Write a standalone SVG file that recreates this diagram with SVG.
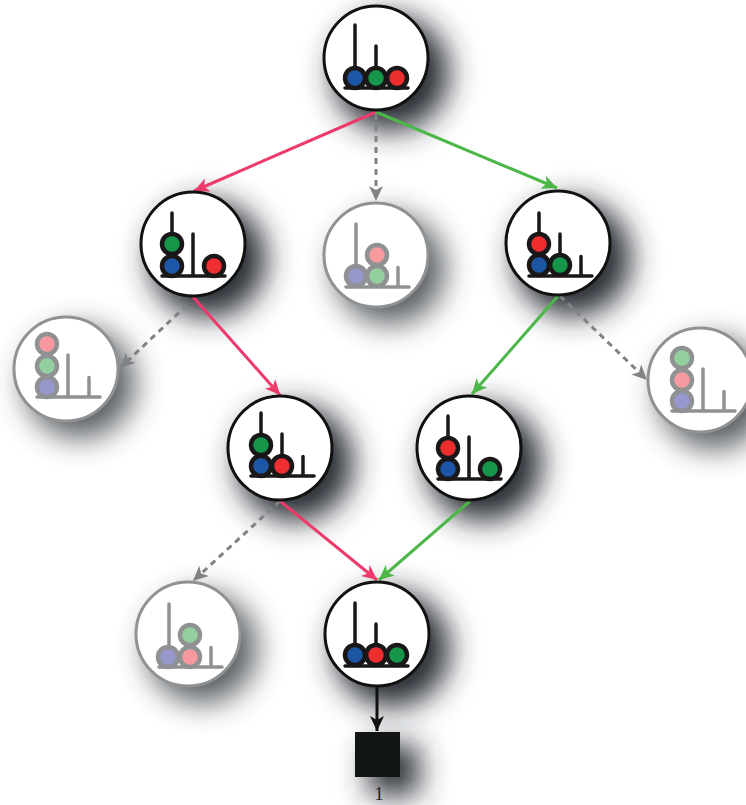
<svg xmlns="http://www.w3.org/2000/svg" width="746" height="805" viewBox="0 0 746 805">
<style>
.c{fill:#fff;stroke:var(--line,#111);stroke-width:3}
.p{stroke:var(--line,#1a1718);stroke-width:3.5;fill:none;stroke-linecap:round}
.ball{stroke:var(--line,#1a1718);stroke-width:4.5}
.f{--line:#8f9193}
.b{fill:#1d56a5}.g{fill:#16964a}.r{fill:#ee2e2e}
.f .b{fill:#9697cc}.f .g{fill:#93cf9f}.f .r{fill:#f79aa0}
.con{fill:none;stroke-width:3}
.pink{stroke:#ee3a6a}.green{stroke:#4cb748}.grey{stroke:#808285;stroke-dasharray:6 5}.black{stroke:#111}
.sh{fill:#262c30;filter:url(#blur)}
.shf{fill:#3a4045;filter:url(#blur);opacity:.85}
</style>
<defs>
<filter id="blur" x="-80%" y="-80%" width="260%" height="260%"><feGaussianBlur stdDeviation="15"/></filter>
<marker id="mp" markerUnits="userSpaceOnUse" markerWidth="17" markerHeight="16" refX="15" refY="8" orient="auto"><path d="M0 1L15 8L0 15L4 8Z" fill="#ee3a6a"/></marker>
<marker id="mg" markerUnits="userSpaceOnUse" markerWidth="17" markerHeight="16" refX="15" refY="8" orient="auto"><path d="M0 1L15 8L0 15L4 8Z" fill="#4cb748"/></marker>
<marker id="mk" markerUnits="userSpaceOnUse" markerWidth="17" markerHeight="16" refX="15" refY="8" orient="auto"><path d="M0 1L15 8L0 15L4 8Z" fill="#808285"/></marker>
<marker id="mb" markerUnits="userSpaceOnUse" markerWidth="17" markerHeight="16" refX="15" refY="8" orient="auto"><path d="M0 1L15 8L0 15L4 8Z" fill="#111"/></marker>
<circle id="disc" class="c" r="52"/>
<path id="rig" class="p" d="M-10 0H53M0 0V-63M21 0V-42M42 0V-19.5"/>
<circle id="ball" class="ball" r="10"/>
</defs>
<g id="shadows">
<circle class="sh" cx="391" cy="73" r="58"/>
<circle class="sh" cx="208" cy="259" r="58"/>
<circle class="shf" cx="390" cy="269" r="55"/>
<circle class="sh" cx="573" cy="258" r="58"/>
<circle class="shf" cx="80" cy="383" r="55"/>
<circle class="shf" cx="714" cy="394" r="55"/>
<circle class="sh" cx="295" cy="463" r="58"/>
<circle class="sh" cx="484" cy="463" r="58"/>
<circle class="shf" cx="202" cy="648" r="55"/>
<circle class="sh" cx="392" cy="649" r="58"/>
<rect class="sh" x="369" y="745" width="50" height="50"/>
</g>
<g id="connectors">
<path class="con pink" marker-end="url(#mp)" d="M376 112L194 191"/>
<path class="con green" marker-end="url(#mg)" d="M376 112L557 188"/>
<path class="con grey" marker-end="url(#mk)" d="M376 114V201"/>
<path class="con pink" marker-end="url(#mp)" d="M193 297L280 395"/>
<path class="con grey" marker-end="url(#mk)" d="M187 305L120 368"/>
<path class="con green" marker-end="url(#mg)" d="M558 296L472 394"/>
<path class="con grey" marker-end="url(#mk)" d="M560 296L647 380"/>
<path class="con pink" marker-end="url(#mp)" d="M280 501L377 580"/>
<path class="con green" marker-end="url(#mg)" d="M470 501L379 580"/>
<path class="con grey" marker-end="url(#mk)" d="M280 501L193 581"/>
<path class="con black" marker-end="url(#mb)" d="M377 687V731"/>
</g>
<g id="n1"><use href="#disc" x="376" y="58"/><use href="#rig" x="355" y="88"/><use href="#ball" class="b" x="355" y="78"/><use href="#ball" class="g" x="376" y="78"/><use href="#ball" class="r" x="397" y="78"/></g>
<g id="n2"><use href="#disc" x="193" y="244"/><use href="#rig" x="172" y="276"/><use href="#ball" class="b" x="172" y="266"/><use href="#ball" class="g" x="172" y="244"/><use href="#ball" class="r" x="214" y="266"/></g>
<g id="n3" class="f"><use href="#disc" x="376" y="255"/><use href="#rig" x="356" y="287"/><use href="#ball" class="b" x="356" y="276"/><use href="#ball" class="g" x="377" y="276"/><use href="#ball" class="r" x="377" y="255"/></g>
<g id="n4"><use href="#disc" x="558" y="243"/><use href="#rig" x="539" y="276"/><use href="#ball" class="b" x="539" y="265"/><use href="#ball" class="r" x="539" y="244"/><use href="#ball" class="g" x="560" y="265"/></g>
<g id="n5" class="f"><use href="#disc" x="66" y="369"/><use href="#rig" x="47" y="397"/><use href="#ball" class="b" x="47" y="387"/><use href="#ball" class="g" x="47" y="366"/><use href="#ball" class="r" x="47" y="344"/></g>
<g id="n6" class="f"><use href="#disc" x="700" y="380"/><use href="#rig" x="682" y="411"/><use href="#ball" class="b" x="682" y="401"/><use href="#ball" class="r" x="682" y="380"/><use href="#ball" class="g" x="682" y="358"/></g>
<g id="n7"><use href="#disc" x="280" y="448"/><use href="#rig" x="261" y="476"/><use href="#ball" class="b" x="261" y="466"/><use href="#ball" class="g" x="261" y="445"/><use href="#ball" class="r" x="282" y="466"/></g>
<g id="n8"><use href="#disc" x="469" y="448"/><use href="#rig" x="448" y="479"/><use href="#ball" class="b" x="448" y="469"/><use href="#ball" class="r" x="448" y="448"/><use href="#ball" class="g" x="490" y="469"/></g>
<g id="n9" class="f"><use href="#disc" x="188" y="634"/><use href="#rig" x="169" y="667"/><use href="#ball" class="b" x="168" y="657"/><use href="#ball" class="r" x="190" y="657"/><use href="#ball" class="g" x="190" y="635"/></g>
<g id="n10"><use href="#disc" x="377" y="634"/><use href="#rig" x="355" y="666"/><use href="#ball" class="b" x="355" y="655"/><use href="#ball" class="r" x="376" y="655"/><use href="#ball" class="g" x="397" y="655"/></g>
<g id="end"><rect x="355" y="732" width="45" height="45" fill="#111516"/><text x="379" y="800" font-family="Liberation Serif, serif" font-size="19" text-anchor="middle" fill="#222">1</text></g>
</svg>
